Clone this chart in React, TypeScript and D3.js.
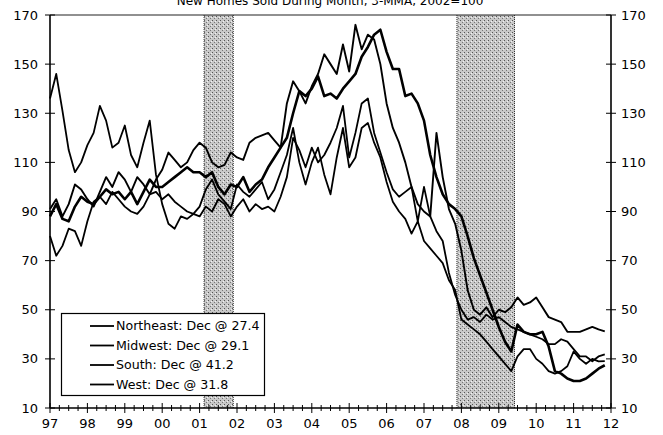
import React from 'react';
import * as d3 from 'd3';

// bi-monthly 3-MMA readings, Jan 1997 .. Nov 2011 (2002=100)
const northeast = [
  88, 93, 87, 86, 92, 96, 94, 93, 96, 99, 97, 98, 95, 98, 93, 98, 103, 100,
  100, 102, 104, 106, 108, 106, 106, 104, 106, 100, 97, 101, 100, 104, 98, 101, 103, 108,
  112, 116, 120, 130, 139, 137, 140, 145, 137, 138, 136, 140, 143, 146, 153, 157, 162, 164,
  155, 148, 148, 137, 138, 134, 127, 113, 104, 97, 93, 91, 88, 80, 71, 64, 57, 50,
  43, 37, 33, 44, 41, 40, 40, 41, 35, 25, 24, 22, 21, 21, 22, 24, 26, 27.4,
];
const midwest = [
  136, 146, 131, 115, 106, 110, 117, 122, 133, 127, 116, 118, 125, 113, 108, 118, 127, 105,
  93, 85, 83, 88, 87, 89, 92, 99, 103, 97, 94, 91, 101, 98, 96, 99, 102, 95,
  99, 106, 113, 124, 110, 101, 110, 116, 105, 97, 112, 124, 108, 112, 124, 126, 118, 112,
  102, 94, 90, 87, 81, 86, 78, 75, 72, 69, 62, 58, 46, 44, 42, 40, 37, 34,
  31, 28, 25, 31, 34, 34, 30, 28, 25, 24, 25, 27, 33, 30, 28, 30, 29, 29.1,
];
const south = [
  91, 95, 88, 93, 101, 99, 95, 92, 98, 104, 100, 106, 103, 98, 104, 101, 97, 103,
  107, 114, 111, 108, 110, 115, 118, 116, 110, 108, 109, 114, 112, 111, 118, 120, 121, 122,
  119, 116, 134, 143, 139, 134, 141, 146, 154, 150, 146, 158, 147, 166, 156, 162, 160, 150,
  134, 124, 118, 110, 100, 93, 90, 88, 122, 104, 91, 85, 74, 58, 50, 48, 51, 47,
  50, 49, 51, 55, 52, 53, 55, 51, 47, 46, 45, 41, 41, 41, 42, 43, 42, 41.2,
];
const west = [
  80, 72, 76, 83, 82, 76, 86, 94, 96, 93, 98, 95, 92, 90, 89, 92, 97, 98,
  95, 97, 94, 92, 90, 89, 88, 92, 90, 95, 93, 88, 92, 95, 90, 93, 91, 92,
  90, 96, 104, 120, 115, 108, 116, 110, 113, 118, 124, 133, 112, 122, 134, 136, 122, 114,
  106, 99, 96, 98, 100, 86, 100, 88, 82, 78, 65, 56, 50, 46, 47, 45, 48, 46,
  47, 45, 43, 42, 41, 40, 39, 38, 36, 36, 38, 37, 34, 31, 31, 29, 31, 31.8,
];

const yearLabels = ['97', '98', '99', '00', '01', '02', '03', '04', '05', '06', '07', '08', '09', '10', '11', '12'];
const yTicks = [10, 30, 50, 70, 90, 110, 130, 150, 170];
const recessions = [[2001.12, 2001.9], [2007.88, 2009.42]];
const legendLabels = ['Northeast: Dec @ 27.4', 'Midwest: Dec @ 29.1', 'South: Dec @ 41.2', 'West: Dec @ 31.8'];
const title = 'New Homes Sold During Month, 3-MMA, 2002=100';

const W = 663, H = 435;
const font = 'Verdana, "DejaVu Sans", sans-serif';

export default function App() {
  const x = d3.scaleLinear().domain([1997, 2012]).range([50, 611]);
  const y = d3.scaleLinear().domain([10, 170]).range([408, 15]);
  const t = (i: number) => 1997 + i / 6;
  const line = d3.line<number>().x((_, i) => x(t(i))).y(d => y(d));
  const series = [northeast, midwest, south, west];
  const widths = [2.6, 1.8, 1.9, 1.8];
  const quarters = d3.range(1997, 2012.01, 0.25);

  return (
    <svg width={W} height={H} style={{ position: 'absolute', left: 0, top: 0, background: '#fff' }} fontFamily={font}>
      <defs>
        <pattern id="stip" width="4" height="4" patternUnits="userSpaceOnUse">
          <rect width="4" height="4" fill="#c8c8c8" />
          <rect x="0" y="0" width="1" height="1" fill="#555" />
          <rect x="2" y="2" width="1" height="1" fill="#777" />
          <rect x="3" y="1" width="1" height="1" fill="#f2f2f2" />
        </pattern>
      </defs>
      <text x={330} y={5} textAnchor="middle" fontSize={12}>{title}</text>

      {recessions.map(([a, b], i) => (
        <g key={i}>
          <rect x={x(a)} y={y(170)} width={x(b) - x(a)} height={y(10) - y(170)} fill="url(#stip)" />
          <line x1={x(a)} x2={x(a)} y1={y(170)} y2={y(10)} stroke="#333" strokeDasharray="1 1" />
          <line x1={x(b)} x2={x(b)} y1={y(170)} y2={y(10)} stroke="#333" strokeDasharray="1 1" />
        </g>
      ))}

      {/* frame */}
      <line x1={x(1997)} x2={x(2012)} y1={y(170)} y2={y(170)} stroke="#222" strokeWidth={1.2} />
      <line x1={x(1997)} x2={x(2012)} y1={y(10)} y2={y(10)} stroke="#000" strokeWidth={1.4} />
      <line x1={x(1997)} x2={x(1997)} y1={y(170)} y2={y(10)} stroke="#000" strokeWidth={1.6} />
      <line x1={x(2012)} x2={x(2012)} y1={y(170)} y2={y(10)} stroke="#000" strokeWidth={1.6} />

      {yTicks.map(v => (
        <g key={v}>
          <line x1={x(1997) - 5} x2={x(1997) + 5} y1={y(v)} y2={y(v)} stroke="#000" />
          <line x1={x(2012) - 5} x2={x(2012) + 5} y1={y(v)} y2={y(v)} stroke="#000" />
          <text x={38} y={y(v)} dy="0.35em" textAnchor="end" fontSize={13}>{v}</text>
          <text x={621} y={y(v)} dy="0.35em" textAnchor="start" fontSize={13}>{v}</text>
        </g>
      ))}

      {quarters.map((q, i) => (
        <line key={i} x1={x(q)} x2={x(q)} y1={y(10) - (i % 4 === 0 ? 5 : 3)} y2={y(10) + (i % 4 === 0 ? 5 : 3)} stroke="#000" />
      ))}
      {yearLabels.map((lab, i) => (
        <text key={lab} x={x(1997 + i)} y={428} textAnchor="middle" fontSize={13}>{lab}</text>
      ))}

      {series.map((s, i) => (
        <path key={i} d={line(s) || ''} fill="none" stroke="#000" strokeWidth={widths[i]} strokeLinejoin="round" />
      ))}

      <g>
        <rect x={61.5} y={313.5} width={203} height={82} fill="#fff" stroke="#000" strokeWidth={1.2} />
        {legendLabels.map((lab, i) => {
          const ly = 326 + i * 19.5;
          return (
            <g key={lab}>
              <line x1={90} x2={114} y1={ly} y2={ly} stroke="#000" strokeWidth={1.8} />
              <text x={116} y={ly} dy="0.35em" fontSize={12.6}>{lab}</text>
            </g>
          );
        })}
      </g>
    </svg>
  );
}
